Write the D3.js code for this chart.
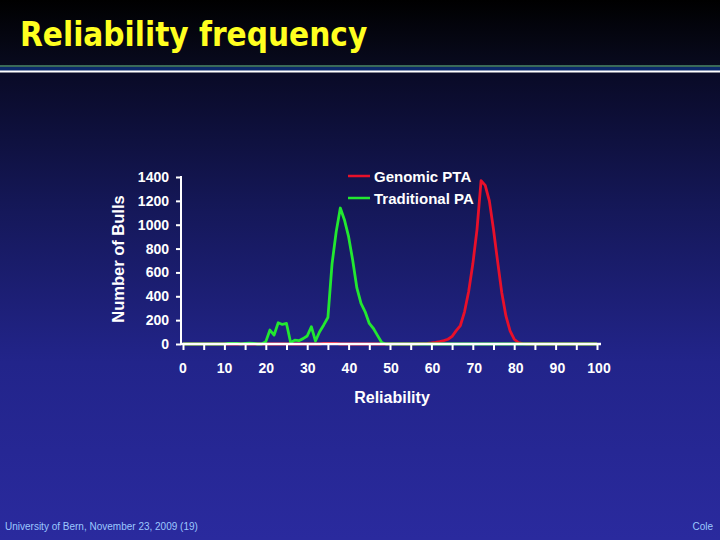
<!DOCTYPE html>
<html>
<head>
<meta charset="utf-8">
<script src="https://cdn.jsdelivr.net/npm/d3@7"></script>
<style>
  body { margin: 0; padding: 0; background: #000; }
  svg { display: block; }
</style>
</head>
<body>
<script>
// Reliability (%) on the x axis, number of bulls on the y axis
var reliability = d3.range(0, 101);

// Genomic PTA (red), zero elsewhere
var genomicX = [33, 34, 35, 36, 37, 38, 55, 56, 57, 58, 59, 60, 61, 62, 63, 64, 65, 66, 67, 68, 69,
                70, 71, 72, 73, 74, 75, 76, 77, 78, 79, 80, 81, 82, 83];
var genomicY = [0, 5, 5, 5, 5, 0, 0, 0, 2, 4, 6, 9, 14, 20, 28, 40, 64, 112, 155, 270, 440,
                670, 955, 1370, 1330, 1200, 960, 690, 430, 235, 110, 40, 12, 3, 0];

// Traditional PA (green)
var traditionalX = [9, 10, 11, 12, 13, 14, 15, 16, 17, 18, 19, 20, 21, 22, 23, 24, 25, 26, 27, 28, 29,
                    30, 31, 32, 33, 34, 35, 36, 37, 38, 39, 40, 41, 42, 43, 44, 45, 46, 47, 48, 49];
var traditionalY = [0, 0, 6, 6, 6, 0, 6, 8, 6, 0, 0, 20, 117, 75, 178, 164, 172, 11, 33, 28, 45,
                    67, 145, 25, 103, 160, 222, 672, 940, 1140, 1040, 900, 700, 470, 340, 270, 172, 130, 70, 12, 0];

var yTicks = [0, 200, 400, 600, 800, 1000, 1200, 1400];
var xTicks = [0, 10, 20, 30, 40, 50, 60, 70, 80, 90, 100];

var seriesNames = ["Genomic PTA", "Traditional PA"];
var seriesColors = ["#e8102a", "#22e830"];

var width = 720, height = 540;

function toPoints(xs, ys) {
    // fill the full 0..100 range with zero where nothing was read
    var lookup = {};
    xs.forEach(function (x, i) { lookup[x] = ys[i]; });
    return reliability.map(function (r) {
        return { x: r, y: lookup[r] !== undefined ? lookup[r] : 0 };
    });
}

function draw() {
    var svg = d3.select("body").append("svg")
        .attr("width", width)
        .attr("height", height);

    var defs = svg.append("defs");
    var bg = defs.append("linearGradient").attr("id", "bg")
        .attr("x1", 0).attr("y1", 0).attr("x2", 0).attr("y2", 1);
    bg.append("stop").attr("offset", "0%").attr("stop-color", "#090a26");
    bg.append("stop").attr("offset", "30%").attr("stop-color", "#15185a");
    bg.append("stop").attr("offset", "62%").attr("stop-color", "#22248a");
    bg.append("stop").attr("offset", "100%").attr("stop-color", "#2a2a9e");

    var hd = defs.append("linearGradient").attr("id", "hd")
        .attr("x1", 0).attr("y1", 0).attr("x2", 0).attr("y2", 1);
    hd.append("stop").attr("offset", "0%").attr("stop-color", "#000000");
    hd.append("stop").attr("offset", "100%").attr("stop-color", "#080a1e");

    // background + header band
    svg.append("rect").attr("width", width).attr("fill", "url(#bg)")
        .attr("y", 72).attr("height", height - 72);
    svg.append("rect").attr("width", width).attr("height", 65).attr("fill", "url(#hd)");
    svg.append("rect").attr("y", 65).attr("width", width).attr("height", 2).attr("fill", "#3a6a58");
    svg.append("rect").attr("y", 67).attr("width", width).attr("height", 4).attr("fill", "#0c2a6c");
    svg.append("rect").attr("y", 70.5).attr("width", width).attr("height", 2).attr("fill", "#ffffff");

    svg.append("text")
        .attr("x", 20).attr("y", 46)
        .attr("fill", "#ffff20")
        .style("font-family", "'DejaVu Sans Condensed', 'DejaVu Sans', sans-serif")
        .style("font-weight", "bold")
        .style("font-size", "33px")
        .text("Reliability frequency");

    var xScale = d3.scaleLinear().domain([0, 100]).range([183, 597]);
    var yScale = d3.scaleLinear().domain([0, 1400]).range([344, 177]);

    var line = d3.line()
        .x(function (d) { return xScale(d.x); })
        .y(function (d) { return yScale(d.y); });

    var series = [toPoints(genomicX, genomicY), toPoints(traditionalX, traditionalY)];

    svg.selectAll("path.series").data(series).enter()
        .append("path")
        .attr("class", "series")
        .attr("d", line)
        .attr("fill", "none")
        .attr("stroke", function (d, i) { return seriesColors[i]; })
        .attr("stroke-width", 2.8)
        .attr("stroke-linejoin", "round");

    var font = "'Liberation Sans', Arial, sans-serif";

    // X axis
    var xAxis = d3.axisBottom(xScale)
        .tickValues(d3.range(0, 101, 5))
        .tickSize(6)
        .tickFormat("");
    var gx = svg.append("g").attr("transform", "translate(0,344)").call(xAxis);
    gx.select(".domain").attr("d", "M181,0H601").attr("stroke", "#fff").attr("stroke-width", 2.5);
    gx.selectAll(".tick line").attr("stroke", "#fff").attr("stroke-width", 2);

    svg.selectAll("text.xt").data(xTicks).enter()
        .append("text")
        .attr("class", "xt")
        .attr("x", function (d) { return xScale(d) + d * 0.02; })
        .attr("y", 373)
        .attr("text-anchor", "middle")
        .attr("fill", "#fff")
        .style("font-family", font).style("font-weight", "bold").style("font-size", "14px")
        .text(function (d) { return d; });

    // Y axis
    var yAxis = d3.axisLeft(yScale)
        .tickValues(yTicks)
        .tickSize(5)
        .tickFormat("");
    var gy = svg.append("g").attr("transform", "translate(181,0)").call(yAxis);
    gy.select(".domain").attr("d", "M0,176V345").attr("stroke", "#fff").attr("stroke-width", 2);
    gy.selectAll(".tick line").attr("stroke", "#fff").attr("stroke-width", 2);

    svg.selectAll("text.yt").data(yTicks).enter()
        .append("text")
        .attr("class", "yt")
        .attr("x", 169)
        .attr("y", function (d) { return yScale(d) + 5; })
        .attr("text-anchor", "end")
        .attr("fill", "#fff")
        .style("font-family", font).style("font-weight", "bold").style("font-size", "14px")
        .text(function (d) { return d; });

    // axis titles
    svg.append("text")
        .attr("transform", "translate(124,259) rotate(-90)")
        .attr("text-anchor", "middle")
        .attr("fill", "#fff")
        .style("font-family", font).style("font-weight", "bold").style("font-size", "16.5px")
        .text("Number of Bulls");

    svg.append("text")
        .attr("x", 392).attr("y", 403)
        .attr("text-anchor", "middle")
        .attr("fill", "#fff")
        .style("font-family", font).style("font-weight", "bold").style("font-size", "16px")
        .text("Reliability");

    // legend
    var legend = svg.selectAll("g.legend").data(seriesNames).enter()
        .append("g")
        .attr("class", "legend")
        .attr("transform", function (d, i) { return "translate(348," + (176 + i * 22) + ")"; });
    legend.append("line")
        .attr("x1", 0).attr("x2", 22)
        .attr("stroke", function (d, i) { return seriesColors[i]; })
        .attr("stroke-width", 2.5);
    legend.append("text")
        .attr("x", 26).attr("y", 5.5)
        .attr("fill", "#fff")
        .style("font-family", font).style("font-weight", "bold").style("font-size", "15px")
        .text(function (d) { return d; });

    // footer
    svg.append("text")
        .attr("x", 5).attr("y", 530)
        .attr("fill", "#9cc8ff")
        .style("font-family", font).style("font-size", "10px")
        .text("University of Bern, November 23, 2009 (19)");
    svg.append("text")
        .attr("x", 713).attr("y", 530)
        .attr("text-anchor", "end")
        .attr("fill", "#9cc8ff")
        .style("font-family", font).style("font-size", "10px")
        .text("Cole");
}

window.onload = draw;
</script>
</body>
</html>
